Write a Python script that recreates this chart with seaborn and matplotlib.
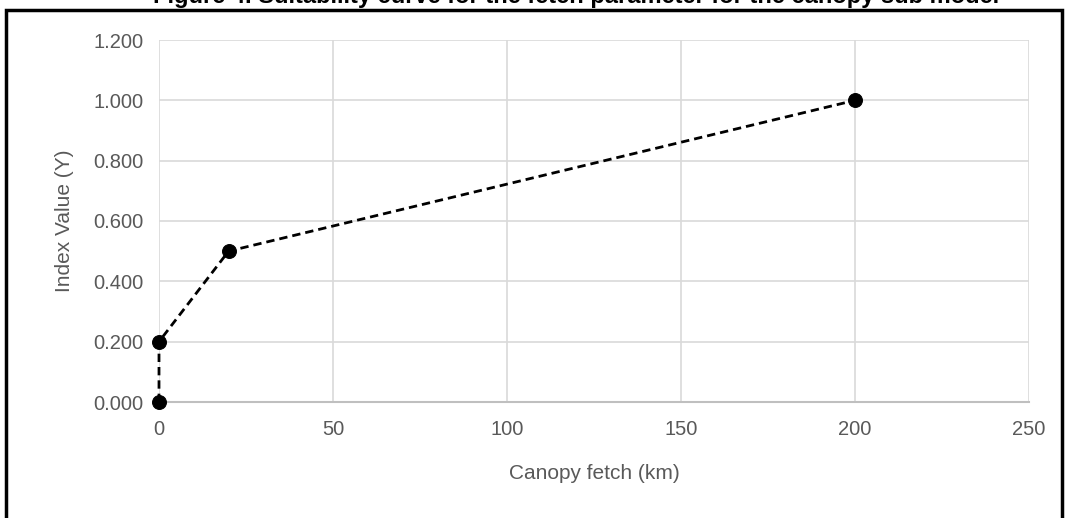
import matplotlib
matplotlib.use("Agg")
import matplotlib.pyplot as plt
import seaborn as sns
import pandas as pd
from matplotlib.patches import Rectangle

fetch_km = [0, 0, 20, 200]
index_value = [0.0, 0.2, 0.5, 1.0]
x_ticks = [0, 50, 100, 150, 200, 250]
y_ticks = [0.0, 0.2, 0.4, 0.6, 0.8, 1.0, 1.2]
title = "Figure 4. Suitability curve for the fetch parameter for the canopy sub model"

sns.set_theme(style="white")
plt.rcParams['font.family'] = ['Liberation Sans Narrow', 'Liberation Sans', 'DejaVu Sans']

df = pd.DataFrame({"fetch": fetch_km, "index": index_value})

fig = plt.figure(figsize=(10.67, 5.18), dpi=100)
W, H = 1067, 518
ax = fig.add_axes([159 / W, 1 - 402 / H, (1029 - 159) / W, (402 - 40) / H])

sns.lineplot(data=df, x="fetch", y="index", ax=ax, sort=False, color="black",
             linestyle=(0, (3, 1.8)), linewidth=2.0, marker="o", markersize=10,
             markeredgecolor="black", markerfacecolor="black", zorder=5,
             estimator=None, clip_on=False)

ax.set_xlim(0, 250)
ax.set_ylim(0, 1.2)
ax.set_xticks(x_ticks)
ax.set_yticks(y_ticks)
ax.set_yticklabels([f"{v:.3f}" for v in y_ticks])
ax.grid(True, color="#d9d9d9", linewidth=1.2)
ax.set_axisbelow(True)
for s in ["top", "right", "left"]:
    ax.spines[s].set_visible(False)
ax.spines["bottom"].set_color("#bfbfbf")
ax.spines["bottom"].set_linewidth(1.5)
ax.tick_params(axis="both", length=0, labelsize=14.5, colors="#595959", pad=11)
ax.tick_params(axis="x", pad=13)
ax.set_xlabel("Canopy fetch (km)", fontsize=15, color="#595959", labelpad=18)
ax.set_ylabel("Index Value (Y)", fontsize=15, color="#595959", labelpad=14)

fig.patches.append(Rectangle((6 / W, -0.05), (1062 - 6) / W, 1.05 - 10 / H,
                             transform=fig.transFigure, fill=False,
                             edgecolor="black", linewidth=2.5))
fig.text(0.54, 1 + 4 / H, title, ha="center", va="center", fontsize=17,
         fontweight="bold", color="black", family=['Liberation Sans', 'DejaVu Sans'])

fig.savefig("out.png", dpi=100)
